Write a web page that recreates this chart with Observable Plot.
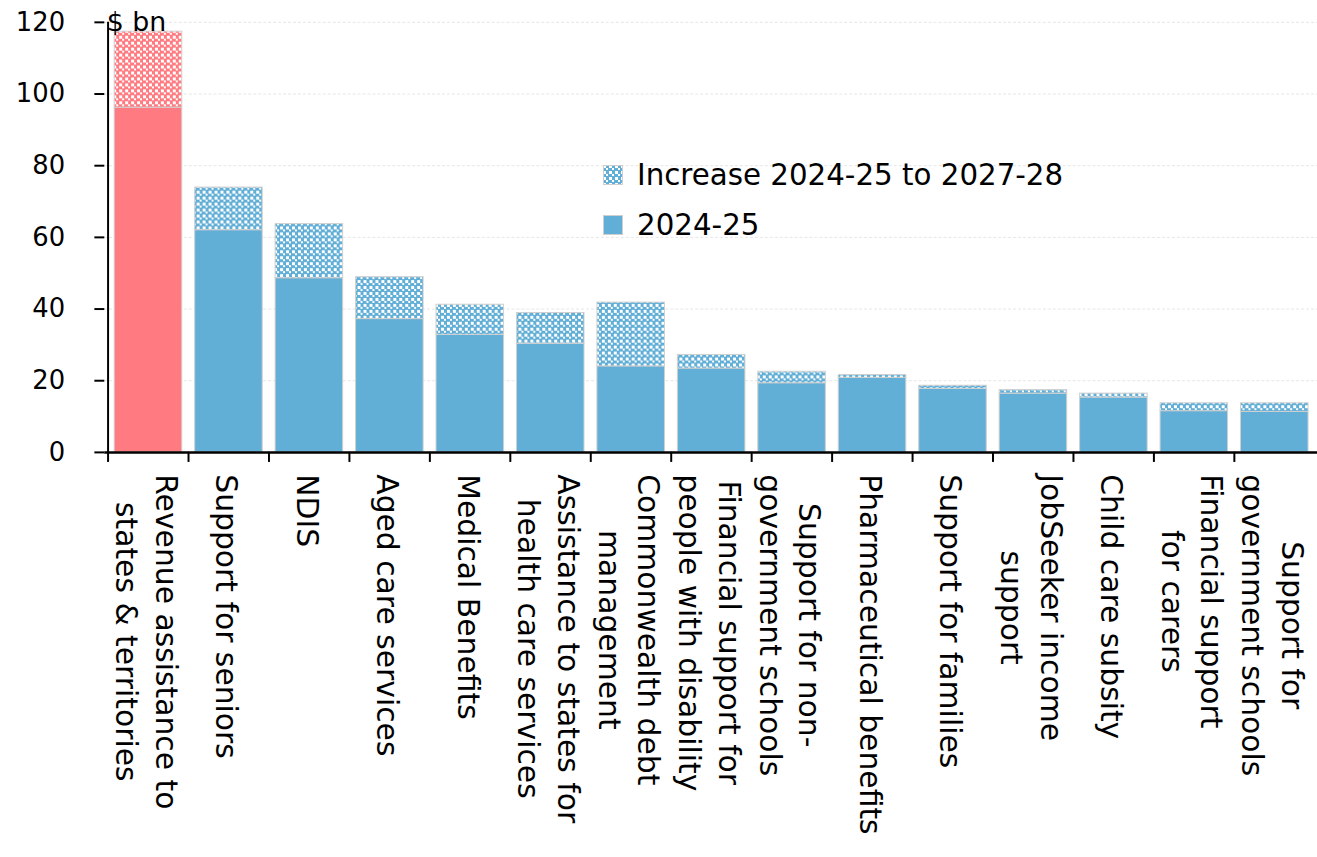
<!DOCTYPE html>
<html>
<head>
<meta charset="utf-8">
<script src="https://cdn.jsdelivr.net/npm/d3@7"></script>
<script src="https://cdn.jsdelivr.net/npm/@observablehq/plot@0.6"></script>
<style>
  html, body { margin: 0; padding: 0; background: #fff; overflow: hidden; }
  #wrap { position: relative; width: 1317px; height: 857px; overflow: hidden; font-family: "DejaVu Sans", sans-serif; }
  #legend { position: absolute; left: 603px; top: 150px; font-size: 29.3px; color: #000; }
  #legend .row { display: flex; align-items: center; height: 50px; white-space: nowrap; }
  #legend svg { width: 20px; height: 20px; margin-right: 14px; flex: none; }
</style>
</head>
<body>
<div id="wrap"><div id="chart"></div><div id="legend"></div></div>
<script>
// ---- data ----
const categories = [
  "Revenue assistance to states & territories",
  "Support for seniors",
  "NDIS",
  "Aged care services",
  "Medical Benefits",
  "Assistance to states for health care services",
  "Commonwealth debt management",
  "Financial support for people with disability",
  "Support for non-government schools",
  "Pharmaceutical benefits",
  "Support for families",
  "JobSeeker income support",
  "Child care subsity",
  "Financial support for carers",
  "Support for government schools"
];
const tickLabels = [
  "Revenue assistance to\nstates & territories",
  "Support for seniors",
  "NDIS",
  "Aged care services",
  "Medical Benefits",
  "Assistance to states for\nhealth care services",
  "Commonwealth debt\nmanagement",
  "Financial support for\npeople with disability",
  "Support for non-\ngovernment schools",
  "Pharmaceutical benefits",
  "Support for families",
  "JobSeeker income\nsupport",
  "Child care subsity",
  "Financial support\nfor carers",
  "Support for\ngovernment schools"
];
const value2024 = [96.2, 62.0, 48.6, 37.2, 32.8, 30.3, 24.0, 23.4, 19.3, 20.8, 17.7, 16.4, 15.3, 11.5, 11.3];
const increaseTo2028 = [21.2, 11.9, 15.1, 11.7, 8.4, 8.6, 17.8, 3.8, 3.2, 0.8, 0.9, 1.0, 1.1, 2.2, 2.4];
const seriesNames = ["2024-25", "Increase 2024-25 to 2027-28"];
const yTicks = [0, 20, 40, 60, 80, 100, 120];
const yUnit = "$ bn";

const RED = "#FF7B81", BLUE = "#61AED6";

// ---- table ----
const rows = [];
categories.forEach((c, i) => rows.push({cat: c, series: seriesNames[0], value: value2024[i], key: (i === 0 ? "red" : "blue") + "-solid"}));
categories.forEach((c, i) => rows.push({cat: c, series: seriesNames[1], value: increaseTo2028[i], key: (i === 0 ? "red" : "blue") + "-pattern"}));
const labelOf = new Map(categories.map((c, i) => [c, tickLabels[i]]));

const W = 1326, H = 857, ML = 105, MR = 0, MT = 22, MB = 402;
const step = (W - ML - MR) / categories.length;

const pat = (id, col) => `<pattern id="${id}" width="6" height="6" patternUnits="userSpaceOnUse">
    <rect width="6" height="6" fill="${col}"/><rect width="3" height="3" fill="#fff"/><rect x="3" y="3" width="2" height="2" fill="#fff"/>
  </pattern>`;

const chart = Plot.plot({
  width: W, height: H,
  marginLeft: ML, marginRight: MR, marginTop: MT, marginBottom: MB,
  style: {fontFamily: "DejaVu Sans, sans-serif", fontSize: "28px", color: "#000", background: "#fff", overflow: "visible"},
  x: {type: "band", domain: categories, paddingInner: 0.165, paddingOuter: 0.0825, label: null},
  y: {domain: [0, 120], label: null},
  color: {domain: ["red-solid", "red-pattern", "blue-solid", "blue-pattern"], range: [RED, "url(#patRed)", BLUE, "url(#patBlue)"]},
  marks: [
    Plot.gridY(yTicks.filter(d => d > 0), {stroke: "#e6e6e6", strokeOpacity: 1, strokeDasharray: "3,2"}),
    Plot.barY(rows, {x: "cat", y: "value", fill: "key", stroke: "#cfcfcf", strokeWidth: 1}),
    Plot.ruleY([0], {stroke: "#000", strokeWidth: 2.5}),
    Plot.ruleX(categories, {x: d => d, dx: -step / 2, y1: -2.8, y2: 0, stroke: "#000", strokeWidth: 2}),
    Plot.ruleX([categories[0]], {x: d => d, dx: -step / 2, y1: 0, y2: 120, stroke: "#000", strokeWidth: 2}),
    Plot.axisY({ticks: yTicks, tickSize: 10, tickPadding: 30, tickFormat: d => String(d), fontSize: 26, strokeWidth: 2, label: null}),
    Plot.axisX({tickSize: 0, tickPadding: 22, rotate: 90, textAnchor: "start", lineAnchor: "middle", lineHeight: 1.33,
                tickFormat: d => labelOf.get(d), fontSize: 30, label: null}),
    Plot.text([yUnit], {frameAnchor: "top-left", textAnchor: "start", lineAnchor: "middle", dx: 2, fontSize: 27})
  ]
});

chart.insertAdjacentHTML("afterbegin", `<defs>${pat("patRed", RED)}${pat("patBlue", BLUE)}</defs>`);
document.getElementById("chart").appendChild(chart);

// centre the lines of multi-line tick labels
chart.querySelectorAll("text").forEach(t => {
  const spans = t.querySelectorAll("tspan");
  if (spans.length > 1) {
    const lens = Array.from(spans, s => s.getComputedTextLength());
    const m = Math.max(...lens);
    spans.forEach((s, i) => s.setAttribute("x", (m - lens[i]) / 2));
  }
});

// legend
const legend = document.getElementById("legend");
const legendItems = [
  {name: seriesNames[1], fill: "url(#patBlueL)"},
  {name: seriesNames[0], fill: BLUE}
];
legend.innerHTML = legendItems.map(it => `<div class="row"><svg viewBox="0 0 20 20">
  <defs>${pat("patBlueL", BLUE)}</defs>
  <rect x="0.5" y="0.5" width="19" height="19" fill="${it.fill}" stroke="#cfcfcf"/></svg><span>${it.name}</span></div>`).join("");
</script>
</body>
</html>
